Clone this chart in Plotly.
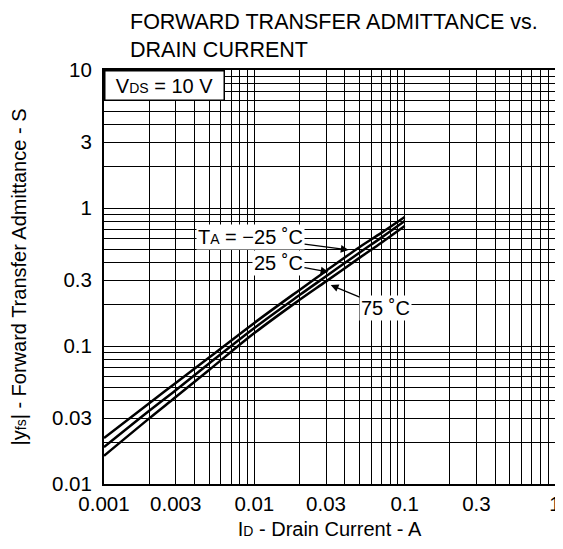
import plotly.graph_objects as go

# Data
drain_current = [0.001, 0.002, 0.003, 0.005, 0.01, 0.02, 0.03, 0.05, 0.07, 0.1]
yfs_m25 = [0.0215, 0.0385, 0.054, 0.0824, 0.147, 0.255, 0.35, 0.52, 0.66, 0.86]
yfs_25 = [0.0185, 0.0339, 0.0478, 0.0746, 0.135, 0.234, 0.32, 0.474, 0.61, 0.805]
yfs_75 = [0.016, 0.0299, 0.0427, 0.067, 0.124, 0.216, 0.294, 0.435, 0.56, 0.74]

x_ticks = [0.001, 0.003, 0.01, 0.03, 0.1, 0.3, 1]
x_tick_labels = ["0.001", "0.003", "0.01", "0.03", "0.1", "0.3", "1"]
y_ticks = [0.01, 0.03, 0.1, 0.3, 1, 3, 10]
y_tick_labels = ["0.01", "0.03", "0.1", "0.3", "1", "3", "10"]

x_minor = [m * 10 ** e for e in range(-3, 0) for m in range(1, 10)] + [1]
y_minor = [m * 10 ** e for e in range(-2, 1) for m in range(1, 10)] + [10]

FONT = "Liberation Sans, Arial, sans-serif"
W, H = 555, 533  # page body has an 8px margin

fig = go.Figure()
for ys in (yfs_m25, yfs_25, yfs_75):
    fig.add_trace(go.Scatter(x=drain_current, y=ys, mode="lines",
                             line=dict(color="black", width=2.5, shape="spline"),
                             showlegend=False, hoverinfo="skip"))

axis_common = dict(type="log", showline=True, linecolor="black", linewidth=2, mirror=True,
                   showgrid=True, gridcolor="black", gridwidth=1, zeroline=False,
                   ticks="", tickfont=dict(family=FONT, size=20.5, color="black"),
                   automargin=False)

fig.update_xaxes(**axis_common, range=[-3, 0], tickmode="array", tickvals=x_ticks,
                 ticktext=x_tick_labels, ticklabelstandoff=0,
                 minor=dict(tickmode="array", tickvals=x_minor, showgrid=True,
                            gridcolor="black", gridwidth=1, ticks=""),
                 title=dict(text="I<span style='font-size:14px'>D</span> - Drain Current - A",
                            font=dict(family=FONT, size=20, color="black"), standoff=8))
fig.update_yaxes(**axis_common, range=[-2, 1], tickmode="array", tickvals=y_ticks,
                 ticktext=y_tick_labels, ticklabelstandoff=6,
                 minor=dict(tickmode="array", tickvals=y_minor, showgrid=True,
                            gridcolor="black", gridwidth=1, ticks=""),
                 title=dict(text="|y<span style='font-size:14px'>fs</span>| - Forward Transfer Admittance - S",
                            font=dict(family=FONT, size=20, color="black"), standoff=26))

ann_font = dict(family=FONT, size=20, color="black")
sub = "<span style='font-size:14px'>{}</span>"
fig.add_annotation(xref="paper", yref="paper", x=0, y=1, xanchor="left", yanchor="top",
                   text="V" + sub.format("DS") + " = 10 V", showarrow=False,
                   font=ann_font, bgcolor="white", bordercolor="black", borderwidth=1.5,
                   width=116, height=26, align="center")
fig.add_annotation(x=-1.373, y=-0.304, xref="x", yref="y",
                   text="T" + sub.format("A") + " = −25 ˚C", showarrow=True,
                   ax=-98, ay=-13, arrowhead=2, arrowsize=1.2, arrowwidth=1.3, arrowcolor="black",
                   font=ann_font, bgcolor="white", borderpad=1)
fig.add_annotation(x=-1.507, y=-0.464, xref="x", yref="y",
                   text="25 ˚C", showarrow=True,
                   ax=-50, ay=-9, arrowhead=2, arrowsize=1.2, arrowwidth=1.3, arrowcolor="black",
                   font=ann_font, bgcolor="white", borderpad=1)
fig.add_annotation(x=-1.492, y=-0.558, xref="x", yref="y",
                   text="75 ˚C", showarrow=True,
                   ax=55, ay=23, arrowhead=2, arrowsize=1.2, arrowwidth=1.3, arrowcolor="black",
                   font=ann_font, bgcolor="white", borderpad=1)

fig.update_layout(
    width=W, height=H,
    margin=dict(l=96, r=8, t=62, b=57),
    paper_bgcolor="white", plot_bgcolor="white",
    title=dict(text="FORWARD TRANSFER ADMITTANCE vs.<br>DRAIN CURRENT",
               font=dict(family=FONT, size=21.5, color="black"),
               x=122 / W, xanchor="left", xref="container",
               y=1 - 21 / H, yanchor="middle", yref="container"),
)

fig.write_html("out.html")
